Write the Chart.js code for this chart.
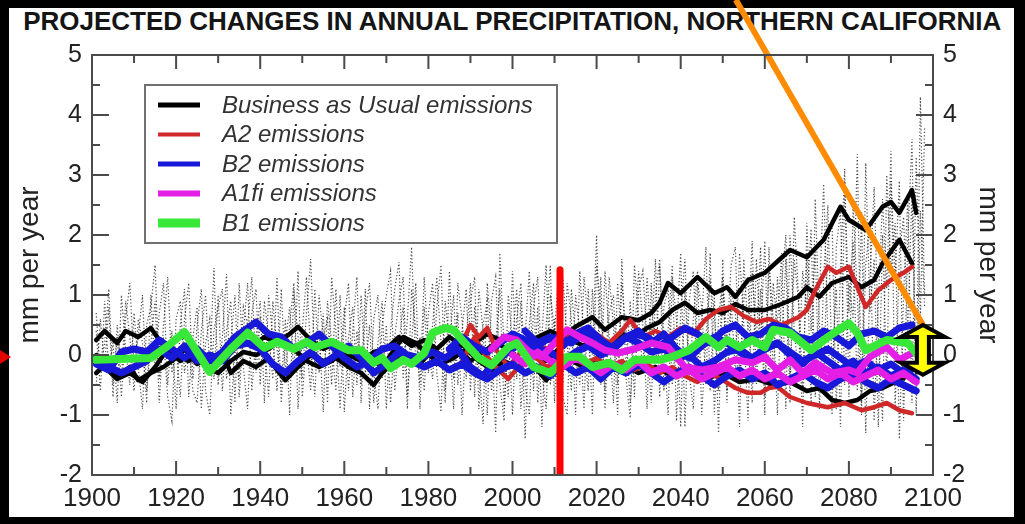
<!DOCTYPE html>
<html><head><meta charset="utf-8">
<script src="https://cdn.jsdelivr.net/npm/chart.js@4.4.1/dist/chart.umd.min.js"></script>
<style>
html,body{margin:0;padding:0;background:#000;width:1025px;height:524px;overflow:hidden}
#panel{position:absolute;left:9px;top:8px;width:1005px;height:509px;background:#fff}
#title{position:absolute;left:0;top:6px;width:1025px;text-align:center;white-space:nowrap;font:bold 26px "Liberation Sans",Arial,sans-serif;color:#151515;line-height:30px}
#tt{display:inline-block;transform-origin:center center}
#c{position:absolute;left:0;top:0}
</style></head>
<body>
<div id="panel"></div>
<div id="title"><span id="tt">PROJECTED CHANGES IN ANNUAL PRECIPITATION, NORTHERN CALIFORNIA</span></div>
<canvas id="c" width="1025" height="524"></canvas>
<script>
// ---------- tick labels ----------
const xTickLabels = [1900, 1920, 1940, 1960, 1980, 2000, 2020, 2040, 2060, 2080, 2100];
const xMinorTicks = [1910, 1930, 1950, 1970, 1990, 2010, 2030, 2050, 2070, 2090];
const yTickLabels = [-2, -1, 0, 1, 2, 3, 4, 5];
const yMinorTicks = [-1.5, -0.5, 0.5, 1.5, 2.5, 3.5, 4.5];

// ---------- legend ----------
const legendNames = ['Business as Usual emissions', 'A2 emissions', 'B2 emissions', 'A1fi emissions', 'B1 emissions'];
const legendColors = ['#000000', '#d02828', '#1818d8', '#e41ee4', '#38e838'];

// ---------- annual dotted model runs (start year 1901) ----------
const annualStart = 1901;
const dotted1 = [
  0.4,-0.6,0.9,-0.3,0.2,-0.8,1.0,0.1,-0.5,0.7,
  -0.2,-0.9,0.5,0.8,1.5,-0.4,0.3,-0.7,-1.1,0.6,
  0.9,-0.3,0.2,-0.6,-0.8,0.4,1.0,-0.2,1.45,-0.5,
  0.3,1.35,-1.0,0.1,-0.4,0.8,0.5,1.3,-0.3,0.6,
  0.2,-0.7,0.9,0.1,-0.5,0.6,-1.0,1.1,0.3,-0.4,
  0.7,1.6,-0.2,0.4,-0.95,0.9,0.2,-0.6,1.0,-0.95,
  0.3,0.8,-0.5,1.0,-0.3,0.5,-0.8,0.2,0.9,-0.9,
  0.4,1.1,1.55,-0.4,0.6,1.8,-0.2,0.3,-0.6,0.7,
  1.2,-0.3,-0.95,0.9,0.2,1.0,-0.5,0.4,1.1,-0.6,
  0.8,-0.2,-1.15,1.2,0.3,-1.3,1.7,0.1,-0.7,1.4,
  -0.4,0.9,-1.4,0.5,1.2,-0.8,0.3,1.5,-0.5,0.6,
  -1.2,1.3,0.2,-0.6,1.0,0.4,-0.9,1.1,0.0,2.0,
  -0.5,1.4,0.3,-0.8,1.2,0.1,-0.4,-1.05,1.5,0.6,
  -0.3,1.3,0.2,1.6,-0.7,0.8,1.1,-0.5,0.4,1.7,
  -1.2,0.9,1.4,-0.2,0.6,1.8,-0.6,1.0,-1.3,1.2,
  0.3,1.5,1.8,-0.4,0.9,1.3,-0.8,1.6,0.2,1.9,
  -0.6,1.2,0.5,1.7,-0.9,2.0,0.4,-0.3,1.4,0.8,
  2.1,-0.7,1.0,2.85,0.3,-1.0,1.8,2.4,-0.5,1.2,
  0.6,3.35,-0.8,1.5,2.2,-1.1,0.9,2.6,1.1,3.4,
  -0.9,1.7,2.3,0.4,2.7,-0.6,4.3,1.0
];
const dotted2 = [
  -0.5,0.6,-0.2,0.8,-0.7,0.5,-0.4,0.9,0.3,-0.6,
  0.6,0.2,-0.8,1.0,-0.3,0.7,1.2,-0.5,0.4,-0.9,
  0.5,1.1,-0.7,0.3,0.8,-0.9,0.2,0.6,-0.4,1.0,
  -0.6,0.4,0.9,-0.8,1.2,-0.2,-0.9,0.7,1.1,-0.5,
  0.9,0.3,-0.4,1.3,-0.8,0.2,0.8,-0.3,1.4,-0.7,
  0.2,-0.6,1.1,-0.3,0.7,-0.8,1.3,0.4,-0.9,0.6,
  1.2,-0.7,0.4,-0.5,1.1,-0.9,0.6,1.0,-0.4,0.5,
  -0.8,0.3,0.9,1.3,-0.7,0.2,1.2,-0.9,0.8,-0.3,
  0.5,1.3,0.2,-0.8,1.4,-0.4,0.7,-1.0,0.3,1.2,
  -0.7,1.1,0.4,-1.0,0.9,1.3,-0.5,-1.1,1.0,0.2,
  1.1,-0.9,0.3,1.4,-0.6,0.8,-1.2,0.5,1.5,-0.8,
  0.9,-0.5,1.2,0.6,-1.0,1.4,0.2,-0.6,1.1,-0.3,
  1.3,-0.9,0.7,1.0,-0.5,1.2,0.4,-0.8,0.3,1.4,
  0.5,-0.9,1.2,-0.4,1.5,0.2,-1.0,1.3,0.6,-1.2,
  1.1,-0.4,0.6,1.4,-1.0,0.3,1.2,0.7,-0.6,1.6,
  -0.8,0.9,-0.3,1.7,0.5,-1.1,1.4,0.2,1.8,-0.7,
  1.5,0.6,-1.0,1.2,2.0,-0.4,1.6,0.9,-1.2,2.2,
  0.4,1.8,-0.9,1.3,2.5,-0.3,1.1,-1.2,2.9,0.7,
  1.9,-0.6,2.4,-1.3,1.2,2.8,0.3,-1.1,3.0,1.4,
  2.2,-1.4,1.0,2.6,-0.8,3.3,0.6,3.8
];
const dotted3 = [
  0.7,-0.3,0.2,1.1,-0.5,0.3,-0.7,0.6,1.2,-0.2,
  0.3,1.0,-0.6,0.2,0.9,-0.8,0.5,1.3,-0.3,0.1,
  -0.7,0.6,1.2,-0.4,0.5,1.1,-0.6,-1.0,0.4,0.8,
  1.1,-0.4,0.2,1.0,-0.7,0.4,1.2,-0.6,0.3,0.9,
  -0.8,1.0,0.3,-0.6,1.1,-0.3,0.5,1.2,-0.9,0.4,
  1.3,0.1,-0.7,1.0,0.3,0.6,-0.5,1.1,-0.2,0.8,
  -0.6,0.4,1.3,-0.8,0.7,1.2,-0.3,-0.9,0.5,1.0,
  1.4,-0.6,0.2,0.8,-0.9,1.1,0.4,-0.5,1.3,0.1,
  -0.4,0.8,1.5,-0.6,0.3,-0.9,1.2,0.6,-0.4,0.9,
  1.3,-0.9,0.5,0.9,-0.6,0.2,1.1,-0.9,0.4,-1.0,
  0.6,1.2,-0.5,-1.0,0.8,1.3,-0.3,-0.9,1.0,0.4,
  1.4,-0.7,-1.0,1.1,0.3,-0.5,1.3,0.6,-1.0,1.5,
  0.8,-0.6,1.3,0.5,-1.0,1.6,-0.3,0.9,-0.7,1.1,
  1.4,0.2,-0.8,1.0,1.6,-0.6,0.4,1.5,-1.1,0.7,
  1.6,-0.3,-0.9,1.2,0.8,-0.5,1.7,-1.0,0.6,1.3,
  -0.6,1.1,0.7,-1.2,1.6,0.4,1.9,-0.5,1.1,-1.0,
  1.8,-0.4,1.3,0.2,1.6,-0.8,2.3,1.0,-0.6,1.7,
  -0.8,2.6,0.5,-0.4,1.9,2.2,-0.9,1.4,3.1,-0.7,
  2.5,1.0,-1.0,3.2,0.7,1.6,-1.2,2.0,-0.4,2.9,
  1.3,2.9,-1.1,1.9,3.6,-1.0,2.4,0.8
];

// ---------- Business as Usual (black) ----------
const bau1Years = [1901,1903,1906,1908,1911,1914,1917,1920,1923,1926,1929,1932,1935,1938,1941,1944,1947,1949,1952,1955,1958,1961,1964,1967,1970,1973,1976,1979,1982,1985,1988,1991,1994,1997,2000,2003,2006,2009,2012,2015,2019,2022,2026,2030,2033,2035,2037,2040,2044,2048,2051,2053,2056,2060,2066,2070,2074,2078,2080,2084,2088,2090,2092,2095,2096];
const bau1 = [0.25,0.4,0.2,0.4,0.3,0.45,0.15,0.0,-0.1,0.05,-0.15,0.1,0.3,0.15,0.3,0.2,0.35,0.47,0.25,0.1,0.2,0.0,-0.1,0.05,0.1,0.3,0.15,0.25,0.1,0.3,0.15,0.2,0.35,0.25,0.3,0.15,0.3,0.4,0.3,0.47,0.63,0.42,0.63,0.58,0.7,0.87,1.2,1.03,1.3,1.03,1.13,0.97,1.25,1.37,1.75,1.63,1.92,2.47,2.25,2.08,2.47,2.55,2.37,2.75,2.37];
const bau2Years = [1901,1904,1906,1909,1911,1914,1917,1920,1922,1925,1928,1931,1933,1936,1939,1942,1944,1946,1949,1952,1955,1958,1961,1964,1967,1969,1972,1975,1978,1981,1984,1987,1990,1993,1996,1999,2002,2005,2008,2011,2014,2017,2020,2023,2026,2029,2032,2035,2038,2041,2044,2047,2050,2053,2056,2060,2064,2068,2070,2073,2076,2080,2083,2086,2088,2092,2095];
const bau2 = [-0.3,-0.1,-0.35,-0.2,-0.42,-0.3,-0.2,-0.05,0.1,-0.15,-0.05,0.05,-0.3,-0.1,-0.2,-0.05,-0.25,-0.42,-0.2,0.0,-0.1,-0.05,-0.2,-0.3,-0.5,-0.3,-0.1,0.0,-0.15,0.1,-0.05,0.1,-0.1,0.05,0.2,0.1,0.25,0.1,-0.1,0.1,0.25,0.15,0.3,0.2,0.35,0.3,0.45,0.55,0.75,0.87,0.7,0.75,0.7,0.85,0.75,0.75,0.85,0.97,1.13,0.97,1.2,1.3,1.13,1.25,1.53,1.92,1.53];
const bau3Years = [1901,1903,1906,1909,1912,1915,1918,1921,1924,1927,1930,1933,1936,1939,1942,1945,1948,1951,1954,1957,1960,1963,1966,1969,1972,1974,1977,1980,1983,1986,1989,1992,1995,1998,2001,2004,2008,2011,2014,2017,2020,2023,2026,2030,2034,2038,2042,2046,2050,2054,2058,2062,2066,2070,2073,2076,2079,2082,2085,2088,2091,2094,2096];
const bau3 = [0.0,-0.2,-0.4,-0.3,-0.45,-0.2,0.1,-0.1,0.05,-0.2,-0.3,-0.1,0.05,0.0,0.1,0.25,0.1,-0.1,-0.2,-0.1,0.05,0.1,-0.05,-0.2,0.1,0.3,0.2,0.0,-0.15,-0.05,0.1,-0.1,-0.25,-0.1,-0.2,-0.1,-0.42,-0.2,-0.1,-0.2,-0.05,-0.25,-0.15,-0.3,-0.2,-0.35,-0.25,-0.4,-0.3,-0.45,-0.4,-0.5,-0.45,-0.6,-0.55,-0.75,-0.8,-0.75,-0.6,-0.55,-0.45,-0.35,-0.4];

// ---------- A2 (red) ----------
const a2aYears = [1988,1990,1992,1994,1996,1999,2002,2005,2008,2011,2014,2017,2020,2023,2026,2028,2031,2034,2037,2040,2043,2046,2049,2052,2055,2058,2061,2064,2068,2070,2072,2075,2077,2080,2082,2084,2087,2090,2093,2095];
const a2a = [0.2,0.5,0.3,0.45,0.1,-0.2,0.05,0.2,0.1,0.2,0.35,0.25,0.35,0.2,0.4,0.58,0.3,0.4,0.3,0.45,0.35,0.6,0.75,0.8,0.65,0.55,0.6,0.5,0.63,0.75,1.08,1.47,1.37,1.47,1.13,0.8,1.08,1.25,1.37,1.47];
const a2bYears = [1988,1991,1993,1996,1999,2002,2005,2008,2011,2014,2017,2020,2023,2026,2029,2032,2035,2038,2041,2044,2047,2050,2053,2056,2059,2061,2063,2066,2070,2075,2079,2083,2086,2089,2092,2095];
const a2b = [-0.1,0.3,0.05,-0.2,-0.4,-0.15,0.0,-0.2,-0.1,0.0,-0.15,-0.05,-0.2,-0.1,-0.25,-0.15,-0.3,-0.2,-0.35,-0.45,-0.3,-0.42,-0.55,-0.63,-0.63,-0.55,-0.53,-0.7,-0.8,-0.87,-0.8,-0.92,-0.87,-0.8,-0.92,-0.97];

// ---------- B2 (blue) ----------
const b2aYears = [1901,1904,1907,1910,1913,1916,1919,1922,1925,1928,1931,1934,1937,1939,1942,1945,1948,1951,1954,1957,1960,1963,1966,1969,1972,1975,1978,1981,1984,1987,1990,1993,1996,1999,2002,2005,2008,2011,2014,2017,2020,2023,2026,2029,2032,2035,2038,2041,2044,2047,2050,2053,2056,2059,2062,2065,2068,2071,2074,2077,2080,2083,2086,2089,2092,2095];
const b2a = [-0.15,-0.25,0.05,0.1,0.05,0.25,0.1,-0.05,0.1,-0.1,0.05,0.3,0.45,0.55,0.35,0.3,0.1,0.2,0.35,0.15,-0.05,-0.2,-0.1,0.1,0.15,0.0,-0.05,0.05,-0.05,0.1,-0.2,-0.35,-0.1,0.05,0.2,0.1,0.25,0.3,0.2,0.35,0.3,0.1,0.25,0.35,0.3,0.15,0.3,0.45,0.35,0.2,0.4,0.5,0.3,0.35,0.5,0.45,0.3,0.25,0.4,0.3,0.15,0.35,0.4,0.3,0.45,0.5];
const b2bStart = 1901;
const b2b = [-0.05,-0.2,-0.3,-0.2,-0.1,0.1,-0.05,0.15,-0.1,0.0,-0.1,0.15,0.2,0.1,-0.15,-0.3,-0.1,0.05,-0.15,0.0,0.15,-0.05,-0.3,-0.15,0.05,-0.1,-0.2,-0.1,-0.25,-0.15,-0.3,-0.4,-0.25,-0.15,-0.3,-0.2,-0.35,-0.15,-0.3,-0.2,-0.4,-0.2,-0.3,-0.15,-0.3,-0.45,-0.3,-0.2,-0.35,-0.5,-0.35,-0.25,-0.4,-0.3,-0.5,-0.4,-0.3,-0.45,-0.55,-0.4,-0.3,-0.45,-0.55,-0.4,-0.5,-0.6];
const b2cStart = 1985;
const b2c = [0.1,0.3,0.15,0.05,0.2,0.35,0.25,0.1,0.05,-0.1,0.05,0.15,0.0,0.1,0.3,0.2,0.05,0.1,-0.05,0.0,-0.2,-0.1,0.05,0.1,-0.05,0.1,0.2,0.05,-0.1,0.0,0.1,-0.05,-0.2,-0.1,-0.25,-0.15,-0.3,-0.2];
const b2dStart = 2003;
const b2d = [0.4,0.2,0.3,0.15,0.35,0.45,0.25,0.1,0.3,0.4,0.2,0.35,0.1,-0.05,0.15,0.3,0.2,0.05,-0.1,0.1,0.2,0.0,-0.15,0.05,-0.1,-0.25,-0.1,-0.3,-0.2,-0.35,-0.25,-0.4];

// ---------- A1fi (magenta) ----------
const a1aYears = [1995,1998,2001,2004,2007,2010,2013,2016,2019,2022,2025,2029,2033,2037,2041,2045,2049,2053,2057,2060,2063,2066,2069,2072,2076,2080,2082,2085,2089,2092,2095];
const a1a = [0.1,0.3,0.25,0.05,-0.03,0.2,0.42,0.3,0.2,0.08,0.03,0.1,0.2,0.13,-0.2,-0.25,-0.2,-0.08,-0.13,-0.03,-0.25,-0.08,-0.3,-0.13,-0.3,-0.25,-0.3,-0.03,0.13,-0.08,0.03];
const a1bStart = 2000;
const a1b = [0.0,-0.15,0.05,-0.1,-0.2,-0.05,-0.15,-0.3,-0.15,-0.25,-0.1,-0.3,-0.2,-0.35,-0.25,-0.4,-0.3,-0.2,-0.35,-0.25,-0.4,-0.3,-0.45,-0.35,-0.25,-0.4,-0.3,-0.45,-0.35,-0.25,-0.4,-0.3,-0.45];

// ---------- B1 (green) ----------
const b1Years = [1901,1914,1918,1922,1928,1933,1937,1941,1944,1948,1951,1953,1957,1961,1964,1967,1969,1971,1974,1976,1979,1981,1984,1986,1988,1992,1995,1999,2001,2005,2009,2013,2016,2019,2023,2026,2029,2035,2038,2042,2046,2049,2051,2054,2057,2060,2062,2066,2071,2075,2080,2082,2084,2089,2094,2096];
const b1 = [-0.08,-0.05,0.15,0.38,-0.28,0.1,0.37,0.12,0.22,0.1,0.22,0.13,0.22,0.08,0.08,-0.13,-0.05,-0.22,-0.08,-0.15,0.03,0.37,0.45,0.42,0.25,-0.05,-0.17,0.13,0.2,-0.2,-0.3,-0.03,-0.03,-0.2,-0.13,-0.25,-0.08,-0.08,-0.03,0.08,0.3,0.13,0.25,0.13,0.25,0.13,0.42,0.37,0.08,0.3,0.53,0.37,0.08,0.25,0.2,0.03];

// ---------- annotations (data units) ----------
const presentYears = [2011.3, 2011.3];
const presentValues = [1.42, -2];
const pointerYears = [2053.1, 2097.6];
const pointerValues = [5.92, 0.5];
const rangeArrowYear = 2097.6;
const rangeArrowValues = [0.5, -0.33];
const leftMarkerValue = 0;

// ---------- helpers ----------
const pairs = (xs, ys) => ys.map((y, i) => ({ x: xs[i], y }));
const stepped = (start, step, ys) => ys.map((y, i) => ({ x: start + step * i, y }));

function run(data, color, width, order, extra) {
  return Object.assign({ data, borderColor: color, borderWidth: width, order, pointRadius: 0,
    tension: 0, fill: false, borderJoinStyle: 'round', borderCapStyle: 'round' }, extra || {});
}
const dotStyle = { borderDash: [1.2, 2.2], borderCapStyle: 'butt', borderJoinStyle: 'miter' };
const dotColor = 'rgba(30,30,30,0.8)';

const datasets = [
  run(stepped(annualStart, 1, dotted1), dotColor, 1.2, 20, dotStyle),
  run(stepped(annualStart, 1, dotted2), dotColor, 1.2, 20, dotStyle),
  run(stepped(annualStart, 1, dotted3), dotColor, 1.2, 20, dotStyle),
  run(pairs(bau1Years, bau1), legendColors[0], 4.5, 10),
  run(pairs(bau2Years, bau2), legendColors[0], 4.5, 10),
  run(pairs(bau3Years, bau3), legendColors[0], 4.5, 10),
  run(pairs(a2aYears, a2a), legendColors[1], 4.5, 9),
  run(pairs(a2bYears, a2b), legendColors[1], 4.5, 9),
  run(pairs(b2aYears, b2a), legendColors[2], 7, 8),
  run(stepped(b2bStart, 3, b2b), legendColors[2], 7, 8),
  run(stepped(b2cStart, 3, b2c), legendColors[2], 7, 8),
  run(stepped(b2dStart, 3, b2d), legendColors[2], 7, 8),
  run(pairs(a1aYears, a1a), legendColors[3], 7, 7),
  run(stepped(a1bStart, 3, a1b), legendColors[3], 7, 7),
  run(pairs(b1Years, b1), legendColors[4], 8, 6),
  run(pairs(presentYears, presentValues), '#ff0000', 7, 2, { borderCapStyle: 'butt' }),
  run(pairs(pointerYears, pointerValues), '#ff8c00', 6, 1, { borderCapStyle: 'butt', clip: false })
];

const FONT = '"Liberation Sans", Arial, sans-serif';

const decor = {
  id: 'decor',
  afterDatasetsDraw(chart) {
    const c = chart.ctx, a = chart.chartArea, xs = chart.scales.x, ys = chart.scales.y;
    c.save();
    // plot frame
    c.strokeStyle = '#4a4a4a'; c.lineWidth = 2;
    c.strokeRect(a.left, a.top, a.right - a.left, a.bottom - a.top);
    // inward tick marks
    c.beginPath();
    const yt = (v, len) => { const p = ys.getPixelForValue(v);
      c.moveTo(a.left, p); c.lineTo(a.left + len, p); c.moveTo(a.right, p); c.lineTo(a.right - len, p); };
    const xt = (v, len) => { const p = xs.getPixelForValue(v);
      c.moveTo(p, a.bottom); c.lineTo(p, a.bottom - len); c.moveTo(p, a.top); c.lineTo(p, a.top + len); };
    yTickLabels.forEach(v => yt(v, 17));
    yMinorTicks.forEach(v => yt(v, 8));
    xTickLabels.forEach(v => xt(v, 14));
    xMinorTicks.forEach(v => xt(v, 8));
    c.stroke();

    // legend box
    const lx = a.left + 53, ly = a.top + 30, lw = 412, lh = 158;
    c.fillStyle = '#fff'; c.fillRect(lx, ly, lw, lh);
    c.strokeStyle = '#707070'; c.lineWidth = 2; c.strokeRect(lx, ly, lw, lh);
    const lwid = [5, 4, 5, 6, 9];
    c.font = 'italic 24px ' + FONT; c.textBaseline = 'middle'; c.textAlign = 'left';
    legendNames.forEach((name, i) => {
      const y = ly + 20 + i * 29.5;
      c.strokeStyle = legendColors[i]; c.lineWidth = lwid[i]; c.lineCap = 'butt';
      c.beginPath(); c.moveTo(lx + 13, y); c.lineTo(lx + 55, y); c.stroke();
      c.fillStyle = '#333'; c.fillText(name, lx + 77, y + 1);
    });

    // yellow double-headed arrow
    const ax = xs.getPixelForValue(rangeArrowYear);
    const t = ys.getPixelForValue(rangeArrowValues[0]), b = ys.getPixelForValue(rangeArrowValues[1]);
    const hw = 22, hh = 12, sw = 6;
    c.beginPath();
    c.moveTo(ax, t); c.lineTo(ax + hw, t + hh); c.lineTo(ax + sw, t + hh); c.lineTo(ax + sw, b - hh);
    c.lineTo(ax + hw, b - hh); c.lineTo(ax, b); c.lineTo(ax - hw, b - hh); c.lineTo(ax - sw, b - hh);
    c.lineTo(ax - sw, t + hh); c.lineTo(ax - hw, t + hh); c.closePath();
    c.fillStyle = '#ffff00'; c.fill();
    c.strokeStyle = '#000'; c.lineWidth = 4; c.lineJoin = 'miter'; c.stroke();

    // small red marker at left edge
    const my = ys.getPixelForValue(leftMarkerValue) + 2;
    c.fillStyle = '#e00000';
    c.beginPath(); c.moveTo(0, my - 7); c.lineTo(11, my); c.lineTo(0, my + 7); c.closePath(); c.fill();
    c.restore();
  }
};

const tickFont = { family: FONT, size: 25 };
const yAxis = (pos, width, titlePad) => ({
  type: 'linear', position: pos, min: -2, max: 5,
  afterBuildTicks: s => { s.ticks = yTickLabels.map(v => ({ value: v })); },
  afterFit: s => { s.width = width; },
  ticks: { font: tickFont, color: '#222', padding: 10 },
  grid: { display: false, drawTicks: false },
  border: { display: false },
  title: { display: true, text: 'mm per year', color: '#222', font: { family: FONT, size: 28 }, padding: { top: titlePad, bottom: 0 } }
});

new Chart(document.getElementById('c'), {
  type: 'line',
  data: { datasets },
  options: {
    responsive: false, animation: false, events: [],
    layout: { padding: { left: 9, right: 11, top: 55, bottom: 9 } },
    scales: {
      x: {
        type: 'linear', min: 1900, max: 2100,
        afterBuildTicks: s => { s.ticks = xTickLabels.map(v => ({ value: v })); },
        afterFit: s => { s.height = 40; },
        ticks: { font: { family: FONT, size: 26 }, color: '#222', padding: 8, maxRotation: 0, callback: v => String(v) },
        grid: { display: false, drawTicks: false },
        border: { display: false }
      },
      y: yAxis('left', 83, 4),
      y2: yAxis('right', 81, 9)
    },
    plugins: { legend: { display: false }, tooltip: { enabled: false } }
  },
  plugins: [decor]
});

// fit the condensed title to its width in the picture
const tt = document.getElementById('tt');
const w = tt.getBoundingClientRect().width;
tt.style.transform = 'scaleX(' + (978 / w) + ')';
</script>
</body></html>
